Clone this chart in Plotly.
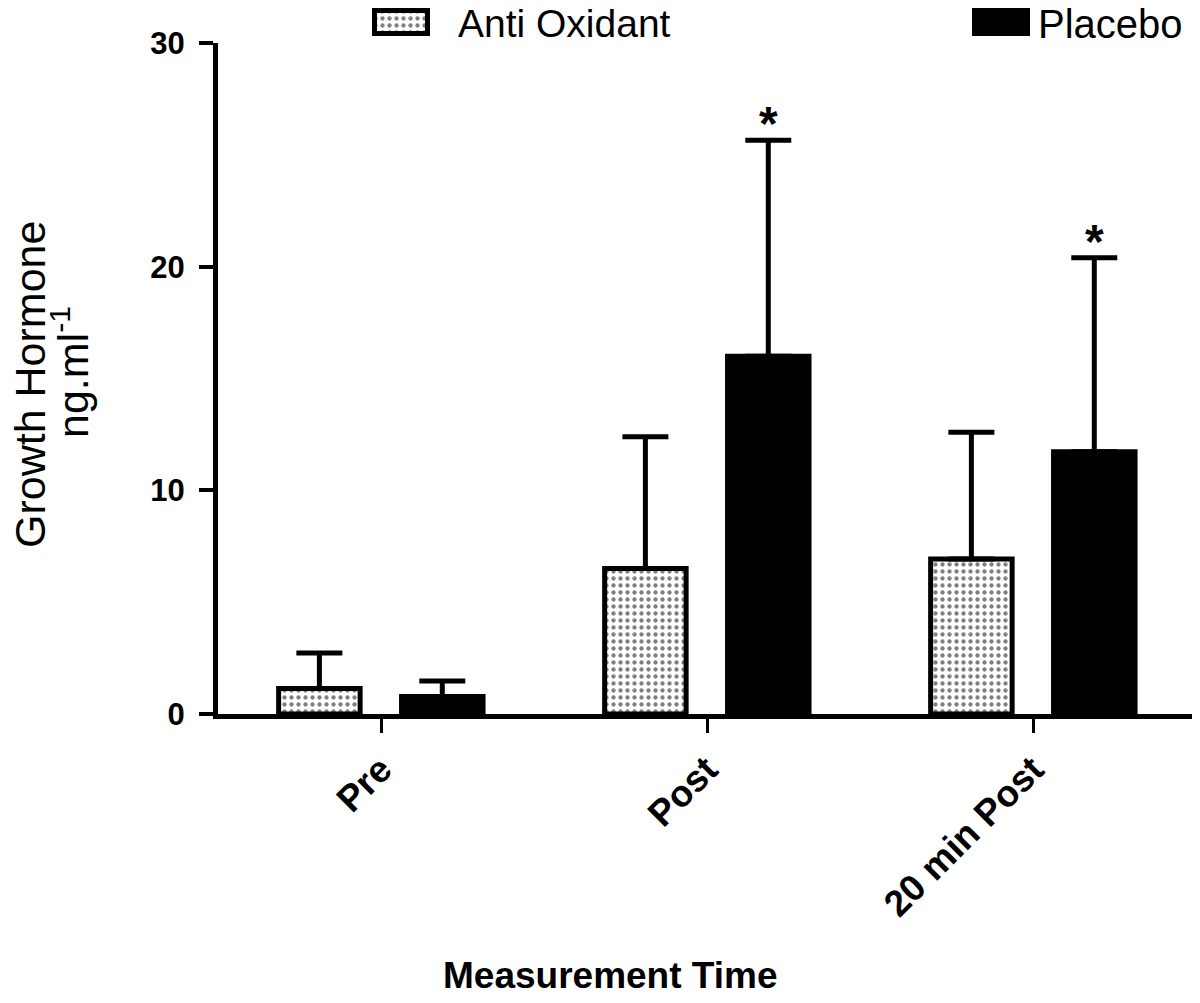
import plotly.graph_objects as go

# ---- data ----
categories = ["Pre", "Post", "20 min Post"]
anti_oxidant_mean = [1.14, 6.5, 6.93]
anti_oxidant_err = [1.59, 5.9, 5.67]
placebo_mean = [0.78, 16.0, 11.73]
placebo_err = [0.7, 9.65, 8.67]
significant_placebo = [False, True, True]
legend_labels = ["Anti Oxidant", "Placebo"]
y_title_lines = ["Growth Hormone", "ng.ml<sup>-1</sup>"]
x_title = "Measurement Time"
y_ticks = [0, 10, 20, 30]

FONT = "Arial, Liberation Sans, sans-serif"
BAR_W = 0.25
AO_OFF = -0.314
PL_OFF = 0.063

# figure geometry (page body adds an 8px offset)
W, H = 1192, 995
ML, MR, MT, MB = 210, 4, 0, 289
PH = H - MT - MB  # plot-paper height


def py(screen_y):
    return (PH - (screen_y - 8)) / PH


def px(screen_x):
    return (screen_x - 8 - ML) / (W - ML - MR)


dot_pattern = dict(shape=".", fgcolor="black", bgcolor="white", size=7, solidity=0.3)

fig = go.Figure()

fig.add_trace(go.Bar(
    x=categories, y=anti_oxidant_mean, name=legend_labels[0],
    width=BAR_W, offset=AO_OFF,
    marker=dict(color="white", line=dict(color="black", width=5), pattern=dot_pattern),
    error_y=dict(type="data", array=anti_oxidant_err, arrayminus=[0]*3, symmetric=False,
                 color="black", thickness=5, width=23),
    showlegend=False,
))
fig.add_trace(go.Bar(
    x=categories, y=placebo_mean, name=legend_labels[1],
    width=BAR_W, offset=PL_OFF,
    marker=dict(color="black", line=dict(color="black", width=5)),
    error_y=dict(type="data", array=placebo_err, arrayminus=[0]*3, symmetric=False,
                 color="black", thickness=5, width=23),
    showlegend=False,
))

# legend keys drawn as bars on a small auxiliary axis at the top (x2 in screen px)
fig.add_trace(go.Bar(
    x=[401], y=[1], base=0, width=[53], xaxis="x2", yaxis="y2",
    marker=dict(color="white", line=dict(color="black", width=5), pattern=dot_pattern),
    showlegend=False, hoverinfo="skip",
))
fig.add_trace(go.Bar(
    x=[1001], y=[1], base=0, width=[53], xaxis="x2", yaxis="y2",
    marker=dict(color="black", line=dict(color="black", width=5)),
    showlegend=False, hoverinfo="skip",
))

annotations = []
for i, sig in enumerate(significant_placebo):
    if sig:
        annotations.append(dict(
            x=i + PL_OFF + BAR_W / 2, y=placebo_mean[i] + placebo_err[i],
            xref="x", yref="y", text="<b>*</b>", showarrow=False,
            xanchor="center", yanchor="bottom", yshift=-12,
            font=dict(family=FONT, size=48, color="black"),
        ))

annotations += [
    dict(x=456, y=py(24), xref="x2", yref="paper", text=legend_labels[0], showarrow=False,
         xanchor="left", yanchor="middle", font=dict(family=FONT, size=39, color="black")),
    dict(x=1036, y=py(24), xref="x2", yref="paper", text=legend_labels[1], showarrow=False,
         xanchor="left", yanchor="middle", font=dict(family=FONT, size=40, color="black")),
    dict(x=px(610), y=py(975), xref="paper", yref="paper",
         text=x_title, showarrow=False, xanchor="center", yanchor="middle",
         font=dict(family=FONT, size=37, color="black", weight="bold")),
    dict(x=px(30), y=py(385), xref="paper", yref="paper",
         text=y_title_lines[0], showarrow=False, textangle=-90,
         xanchor="center", yanchor="middle",
         font=dict(family=FONT, size=43, color="black")),
    dict(x=px(70), y=py(372), xref="paper", yref="paper",
         text=y_title_lines[1], showarrow=False, textangle=-90,
         xanchor="center", yanchor="middle",
         font=dict(family=FONT, size=43, color="black")),
]

# legend-key axis: inner bar spans screen y 10.5..33.5 so the 5px outline stays inside
key_top, key_bot, dom_top, dom_bot = 10.5, 33.5, 8.0, 36.0
unit = key_bot - key_top
y2_range = [-(dom_bot - key_bot) / unit, 1 + (key_top - dom_top) / unit]

fig.update_layout(
    width=W, height=H,
    margin=dict(l=ML, r=MR, t=MT, b=MB, autoexpand=False),
    paper_bgcolor="white", plot_bgcolor="white",
    barmode="overlay",
    font=dict(family=FONT, color="black"),
    xaxis=dict(
        type="category", range=[-0.5, 2.5], automargin=False,
        showline=True, linecolor="black", linewidth=5,
        ticks="outside", ticklen=14, tickwidth=3, tickcolor="black",
        tickangle=-45, tickfont=dict(family=FONT, size=37, color="black", weight="bold"),
        showgrid=False, zeroline=False,
    ),
    yaxis=dict(
        domain=[0, py(43)], range=[0, 30], tickvals=y_ticks, automargin=False,
        showline=True, linecolor="black", linewidth=5,
        ticks="outside", ticklen=14, tickwidth=4, tickcolor="black",
        ticklabelstandoff=8,
        tickfont=dict(family=FONT, size=31, color="black", weight="bold"),
        showgrid=False, zeroline=False,
    ),
    xaxis2=dict(domain=[0, 1], range=[218, 1196], visible=False, anchor="y2", automargin=False),
    yaxis2=dict(domain=[py(dom_bot), py(dom_top)], range=y2_range, visible=False,
                anchor="x2", automargin=False),
    annotations=annotations,
)

fig.write_html("out.html")
